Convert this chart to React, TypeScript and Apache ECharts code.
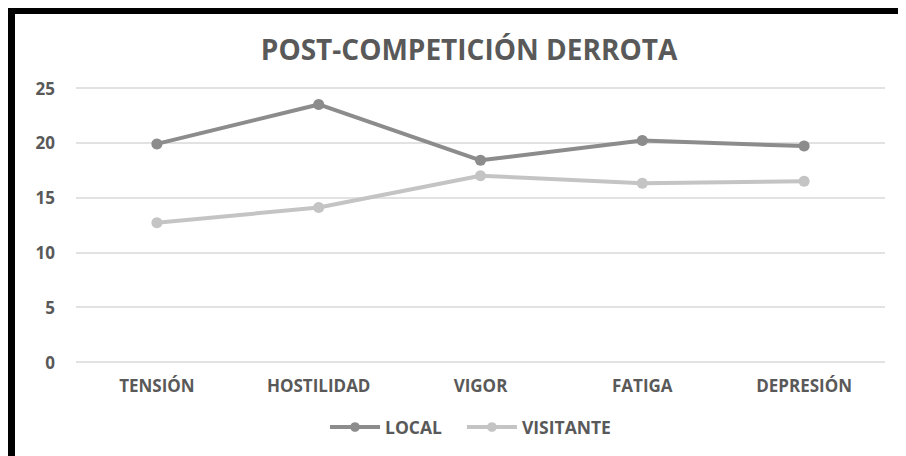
import React, { useEffect, useRef } from "react";
import * as echarts from "echarts";

const categories = ["TENSIÓN", "HOSTILIDAD", "VIGOR", "FATIGA", "DEPRESIÓN"];
const localValues = [19.9, 23.5, 18.4, 20.2, 19.7];
const visitanteValues = [12.7, 14.1, 17.0, 16.3, 16.5];
const seriesNames = ["LOCAL", "VISITANTE"];
const titleText = "POST-COMPETICIÓN DERROTA";

export default function App() {
  const ref = useRef<HTMLDivElement>(null);
  useEffect(() => {
    document.body.style.overflow = "hidden";
    const chart = echarts.init(ref.current!, null, { renderer: "svg" });
    const font = "'Open Sans', 'Noto Sans', sans-serif";
    chart.setOption({
      animation: false,
      backgroundColor: "#ffffff",
      title: {
        text: titleText,
        left: 449,
        top: 16,
        textAlign: "center",
        textStyle: { fontFamily: font, fontSize: 28, fontWeight: "bold", color: "#595959" },
      },
      grid: { left: 61, right: 21, top: 74, bottom: 94 },
      legend: {
        data: seriesNames,
        top: 399,
        left: 308,
        itemWidth: 50,
        itemHeight: 12,
        itemGap: 23,
        lineStyle: { width: 4 },
        textStyle: { fontFamily: font, fontSize: 17.5, fontWeight: "bold", color: "#595959" },
      },
      xAxis: {
        type: "category",
        data: categories,
        boundaryGap: true,
        axisLine: { show: false },
        axisTick: { show: false },
        axisLabel: { margin: 15, fontFamily: font, fontSize: 17, fontWeight: "bold", color: "#595959" },
      },
      yAxis: {
        type: "value",
        min: 0,
        max: 25,
        interval: 5,
        axisLine: { show: false },
        axisTick: { show: false },
        axisLabel: { margin: 21, fontFamily: font, fontSize: 17, fontWeight: "bold", color: "#595959" },
        splitLine: { lineStyle: { color: "#d9d9d9", width: 1.5 } },
      },
      series: [
        {
          name: seriesNames[0],
          type: "line",
          data: localValues,
          symbol: "circle",
          symbolSize: 11,
          itemStyle: { color: "#8c8c8c" },
          lineStyle: { color: "#8c8c8c", width: 4 },
        },
        {
          name: seriesNames[1],
          type: "line",
          data: visitanteValues,
          symbol: "circle",
          symbolSize: 11,
          itemStyle: { color: "#c4c4c4" },
          lineStyle: { color: "#c4c4c4", width: 4 },
        },
      ],
    });
    return () => chart.dispose();
  }, []);
  return (
    <div
      style={{
        width: 898,
        height: 448,
        borderTop: "6px solid #000",
        borderLeft: "7px solid #000",
        boxSizing: "border-box",
        background: "#fff",
      }}
    >
      <div ref={ref} style={{ width: 891, height: 442 }} />
    </div>
  );
}
